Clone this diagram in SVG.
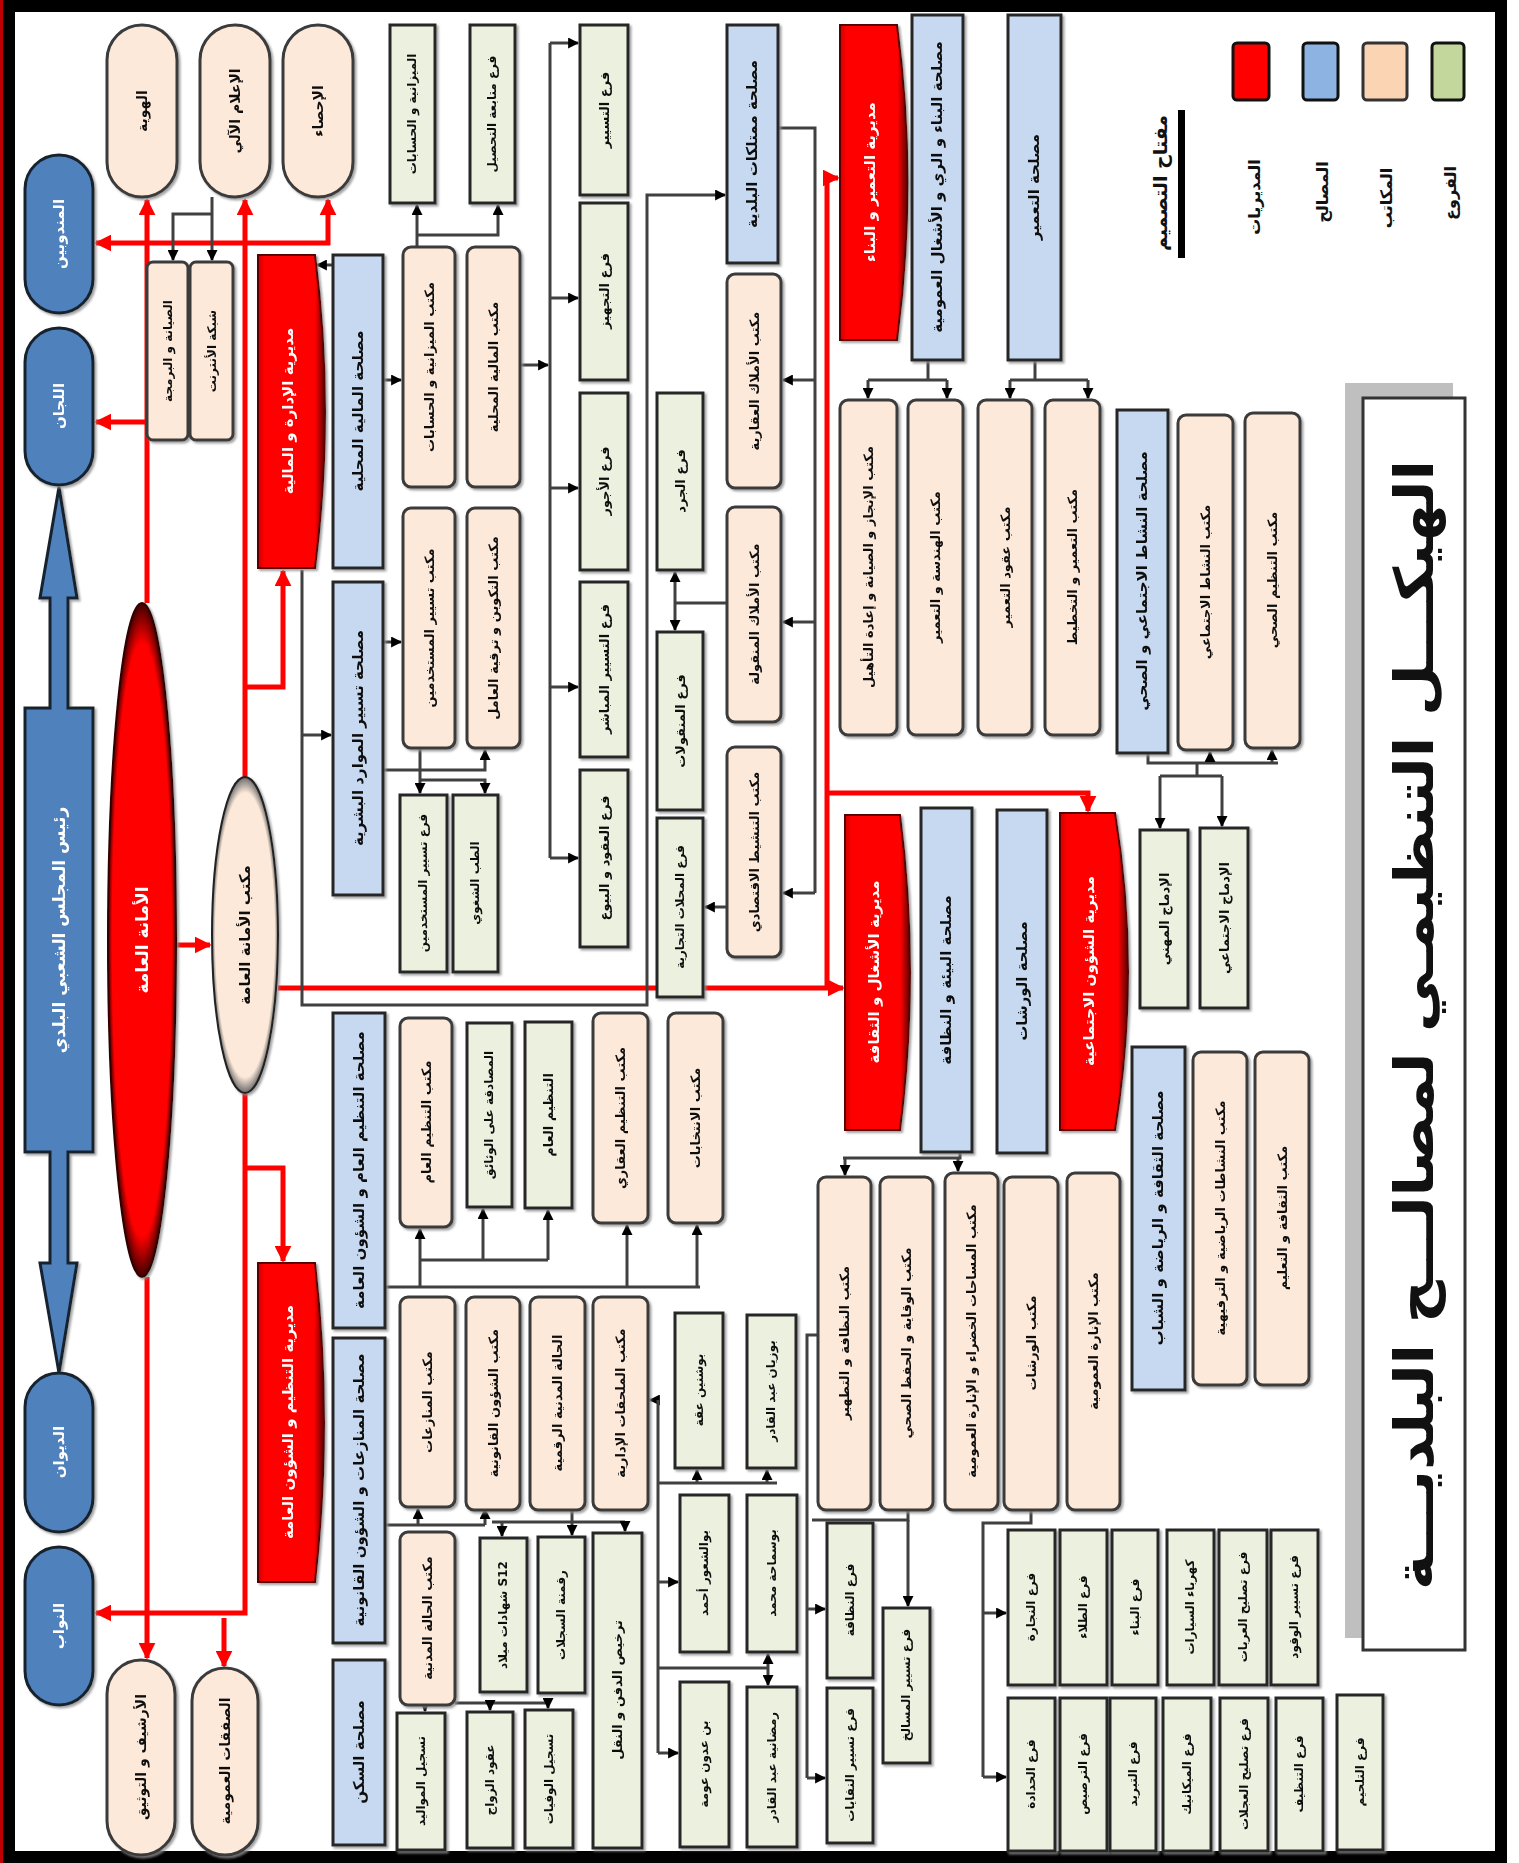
<svg xmlns="http://www.w3.org/2000/svg" width="1519" height="1863" viewBox="0 0 1519 1863">
<style>
.pe{fill:#fde9d9;stroke:#3a3a3a;stroke-width:3}
.gr{fill:#ebf1de;stroke:#262626;stroke-width:3}
.bl{fill:#c6d9f1;stroke:#262626;stroke-width:3}
.rd{fill:url(#rg);stroke:#5a0000;stroke-width:2}
.pl{fill:#4f81bd;stroke:#17222e;stroke-width:3}
.t{font-family:"DejaVu Sans","Noto Sans",sans-serif;font-weight:bold;text-anchor:middle;dominant-baseline:central;fill:#111}
.w{fill:#fff}
.f12{font-size:12px}.f13{font-size:13px}.f14{font-size:14px}.f15{font-size:15px}.f16{font-size:16px}.f17{font-size:17px}
.ln{fill:none;stroke:#404040;stroke-width:3}
.rl{fill:none;stroke:#ff0000;stroke-width:5}
.nd{filter:url(#sh)}
</style>
<defs>
<filter id="sh" x="-20%" y="-5%" width="140%" height="110%"><feDropShadow dx="2" dy="2" stdDeviation="1" flood-color="#8c8c8c" flood-opacity="0.8"/></filter>
<linearGradient id="rg" x1="0" y1="0" x2="1" y2="0"><stop offset="0" stop-color="#d00000"/><stop offset="0.1" stop-color="#ff0000"/><stop offset="0.85" stop-color="#ff0000"/><stop offset="1" stop-color="#5a0000"/></linearGradient>
<radialGradient id="eg"><stop offset="0.88" stop-color="#ff0000"/><stop offset="1" stop-color="#400000"/></radialGradient>
<radialGradient id="pg"><stop offset="0.9" stop-color="#fde9d9"/><stop offset="1" stop-color="#6a6a6a"/></radialGradient>
<marker id="a" viewBox="0 0 10 10" refX="9" refY="5" markerWidth="11" markerHeight="11" markerUnits="userSpaceOnUse" orient="auto"><path d="M0,0 L10,5 L0,10 Z" fill="#000"/></marker>
<marker id="r" viewBox="0 0 10 10" refX="9" refY="5" markerWidth="17" markerHeight="17" markerUnits="userSpaceOnUse" orient="auto"><path d="M0,0 L10,5 L0,10 Z" fill="#ff0000"/></marker>
</defs>

<!-- page frame -->
<rect x="0" y="0" width="1519" height="1863" fill="#fff"/>
<line x1="1.5" y1="0" x2="1.5" y2="1863" stroke="#c00000" stroke-width="3"/>
<rect x="9" y="6" width="1492" height="1851" fill="none" stroke="#000" stroke-width="12"/>

<!-- connectors -->
<g id="connectors">
<g class="rl">
<path d="M147,603 V200" marker-end="url(#r)"/>
<path d="M328,245 V200" marker-end="url(#r)"/>
<path d="M330,243 H96" marker-end="url(#r)"/>
<path d="M245,778 V200" marker-end="url(#r)"/>
<path d="M245,687 H283 V571" marker-end="url(#r)"/>
<path d="M147,422 H96" marker-end="url(#r)"/>
<path d="M176,945 H210" marker-end="url(#r)"/>
<path d="M278,988 H843" marker-end="url(#r)"/>
<path d="M827,988 V178 H838" marker-end="url(#r)"/>
<path d="M827,793 H1088 V811" marker-end="url(#r)"/>
<path d="M245,1093 V1613 H96" marker-end="url(#r)"/>
<path d="M245,1168 H283 V1261" marker-end="url(#r)"/>
<path d="M147,1277 V1658" marker-end="url(#r)"/>
<path d="M224,1618 V1666" marker-end="url(#r)"/>
</g>
<g class="ln">
<path d="M212,197 V260" marker-end="url(#a)"/>
<path d="M212,214 H173 V260" marker-end="url(#a)"/>
<path d="M333,265 H317" marker-end="url(#a)"/>
<path d="M302,570 V1005 H647 V195 H725" marker-end="url(#a)"/>
<path d="M302,735 H331" marker-end="url(#a)"/>
<path d="M383,380 H401" marker-end="url(#a)"/>
<path d="M417,247 V205" marker-end="url(#a)"/>
<path d="M417,235 H498 V205" marker-end="url(#a)"/>
<path d="M520,365 H548" marker-end="url(#a)"/>
<path d="M550,43 V858"/>
<path d="M550,43 H578" marker-end="url(#a)"/>
<path d="M550,298 H578" marker-end="url(#a)"/>
<path d="M550,488 H578" marker-end="url(#a)"/>
<path d="M550,687 H578" marker-end="url(#a)"/>
<path d="M550,858 H578" marker-end="url(#a)"/>
<path d="M778,128 H815 V893"/>
<path d="M815,380 H783" marker-end="url(#a)"/>
<path d="M815,622 H783" marker-end="url(#a)"/>
<path d="M815,893 H783" marker-end="url(#a)"/>
<path d="M727,603 H675"/>
<path d="M675,603 V572" marker-end="url(#a)"/>
<path d="M675,603 V630" marker-end="url(#a)"/>
<path d="M727,907 H705" marker-end="url(#a)"/>
<path d="M383,642 H401" marker-end="url(#a)"/>
<path d="M383,770 H485 V750" marker-end="url(#a)"/>
<path d="M420,748 V793" marker-end="url(#a)"/>
<path d="M420,780 H485 V793" marker-end="url(#a)"/>
<path d="M928,360 V380"/>
<path d="M868,380 H947"/>
<path d="M868,380 V398" marker-end="url(#a)"/>
<path d="M947,380 V398" marker-end="url(#a)"/>
<path d="M1035,360 V380"/>
<path d="M1010,380 H1088"/>
<path d="M1010,380 V398" marker-end="url(#a)"/>
<path d="M1088,380 V398" marker-end="url(#a)"/>
<path d="M1148,753 V763 H1278"/>
<path d="M1210,763 V752" marker-end="url(#a)"/>
<path d="M1272,763 V750" marker-end="url(#a)"/>
<path d="M1197,763 V776"/>
<path d="M1160,776 H1222"/>
<path d="M1160,776 V828" marker-end="url(#a)"/>
<path d="M1222,776 V826" marker-end="url(#a)"/>
<path d="M385,1287 H700"/>
<path d="M420,1287 V1229" marker-end="url(#a)"/>
<path d="M627,1287 V1225" marker-end="url(#a)"/>
<path d="M697,1287 V1225" marker-end="url(#a)"/>
<path d="M420,1260 H548"/>
<path d="M483,1260 V1209" marker-end="url(#a)"/>
<path d="M548,1260 V1210" marker-end="url(#a)"/>
<path d="M385,1525 H485"/>
<path d="M418,1525 V1509" marker-end="url(#a)"/>
<path d="M485,1525 V1509" marker-end="url(#a)"/>
<path d="M572,1510 V1522"/>
<path d="M492,1522 H625"/>
<path d="M502,1522 V1536" marker-end="url(#a)"/>
<path d="M572,1522 V1535" marker-end="url(#a)"/>
<path d="M625,1522 V1531" marker-end="url(#a)"/>
<path d="M425,1705 V1711" marker-end="url(#a)"/>
<path d="M455,1703 H548"/>
<path d="M490,1703 V1710" marker-end="url(#a)"/>
<path d="M548,1703 V1708" marker-end="url(#a)"/>
<path d="M658,1400 H650" marker-end="url(#a)"/>
<path d="M658,1400 V1753"/>
<path d="M658,1582 H678" marker-end="url(#a)"/>
<path d="M658,1753 H678" marker-end="url(#a)"/>
<path d="M658,1483 H777"/>
<path d="M697,1483 V1470" marker-end="url(#a)"/>
<path d="M767,1483 V1470" marker-end="url(#a)"/>
<path d="M658,1668 H768"/>
<path d="M768,1668 V1654" marker-end="url(#a)"/>
<path d="M768,1668 V1685" marker-end="url(#a)"/>
<path d="M818,1335 H807 V1778"/>
<path d="M807,1609 H825" marker-end="url(#a)"/>
<path d="M807,1778 H825" marker-end="url(#a)"/>
<path d="M908,1510 V1520 H812"/>
<path d="M908,1520 V1606" marker-end="url(#a)"/>
<path d="M960,1152 V1158 H843"/>
<path d="M845,1158 V1175" marker-end="url(#a)"/>
<path d="M958,1158 V1171" marker-end="url(#a)"/>
<path d="M1031,1510 V1523 H983 V1777"/>
<path d="M983,1613 H1006" marker-end="url(#a)"/>
<path d="M983,1777 H1006" marker-end="url(#a)"/>
</g>
</g>

<!-- mayor and side units -->
<g id="mayor" class="nd">
<path class="pl" d="M59,487 L77,598 L68,598 L68,708 L93,708 L93,1152 L68,1152 L68,1263 L77,1263 L59,1373 L40,1263 L50,1263 L50,1152 L25,1152 L25,708 L50,708 L50,598 L40,598 Z"/>
<text class="t w f17" transform="translate(59,930) rotate(-90)">رئيس المجلس الشعبي البلدي</text>
</g>
<g id="p-delegates" class="nd"><rect class="pl" x="25" y="155" width="68" height="158" rx="34"/><text class="t w f15" transform="translate(59,234) rotate(-90)">المندوبين</text></g>
<g id="p-committees" class="nd"><rect class="pl" x="25" y="328" width="68" height="157" rx="34"/><text class="t w f15" transform="translate(59,406) rotate(-90)">اللجان</text></g>
<g id="p-cabinet" class="nd"><rect class="pl" x="25" y="1373" width="68" height="159" rx="34"/><text class="t w f15" transform="translate(59,1452) rotate(-90)">الديوان</text></g>
<g id="p-deputies" class="nd"><rect class="pl" x="25" y="1547" width="68" height="158" rx="34"/><text class="t w f15" transform="translate(59,1626) rotate(-90)">النواب</text></g>

<g id="sec-general" class="nd"><ellipse cx="142" cy="940" rx="34" ry="337" fill="url(#eg)" stroke="#300000" stroke-width="2"/><text class="t w f17" transform="translate(142,940) rotate(-90)">الأمانة العامة</text></g>
<g id="sec-office" class="nd"><ellipse cx="245" cy="935" rx="33" ry="158" fill="url(#pg)" stroke="#222" stroke-width="2"/><text class="t f15" transform="translate(245,935) rotate(-90)">مكتب الأمانة العامة</text></g>

<g id="u-identity" class="nd"><rect class="pe" x="107" y="25" width="70" height="172" rx="35"/><text class="t f14" transform="translate(142,111) rotate(-90)">الهوية</text></g>
<g id="u-it" class="nd"><rect class="pe" x="200" y="25" width="70" height="172" rx="35"/><text class="t f14" transform="translate(235,111) rotate(-90)">الإعلام الآلي</text></g>
<g id="u-stats" class="nd"><rect class="pe" x="283" y="25" width="70" height="172" rx="35"/><text class="t f14" transform="translate(318,111) rotate(-90)">الإحصاء</text></g>
<g id="u-archive" class="nd"><rect class="pe" x="107" y="1660" width="68" height="195" rx="34"/><text class="t f14" transform="translate(141,1757) rotate(-90)">الأرشيف و التوثيق</text></g>
<g id="u-markets" class="nd"><rect class="pe" x="192" y="1668" width="66" height="187" rx="33"/><text class="t f14" transform="translate(225,1761) rotate(-90)">الصفقات العمومية</text></g>
<g id="s-maint" class="nd"><rect class="pe" x="147" y="262" width="41" height="178" rx="6"/><text class="t f12" transform="translate(167.5,351) rotate(-90)">الصيانة و البرمجة</text></g>
<g id="s-net" class="nd"><rect class="pe" x="190" y="262" width="43" height="178" rx="6"/><text class="t f12" transform="translate(211.5,351) rotate(-90)">شبكة الأنترنت</text></g>

<!-- directorates -->
<g id="d-admin" class="nd"><path class="rd" d="M258,255 H315 Q335,411 315,568 H258 Z"/><text class="t w f15" transform="translate(288,411) rotate(-90)">مديرية الإدارة و المالية</text></g>
<g id="d-reg" class="nd"><path class="rd" d="M258,1263 H315 Q333,1422 315,1582 H258 Z"/><text class="t w f15" transform="translate(288,1422) rotate(-90)">مديرية التنظيم و الشؤون العامة</text></g>
<g id="d-urb" class="nd"><path class="rd" d="M840,25 H897 Q918,182 897,340 H840 Z"/><text class="t w f15" transform="translate(870,182) rotate(-90)">مديرية التعمير و البناء</text></g>
<g id="d-works" class="nd"><path class="rd" d="M845,815 H900 Q920,972 900,1130 H845 Z"/><text class="t w f15" transform="translate(874,972) rotate(-90)">مديرية الأشغال و الثقافة</text></g>
<g id="d-social" class="nd"><path class="rd" d="M1060,813 H1115 Q1141,971 1115,1130 H1060 Z"/><text class="t w f15" transform="translate(1089,971) rotate(-90)">مديرية الشؤون الاجتماعية</text></g>

<!-- services -->
<g id="b1" class="nd"><rect class="bl" x="333" y="255" width="50" height="313"/><text class="t f15" transform="translate(358,411) rotate(-90)">مصلحة المالية المحلية</text></g>
<g id="b2" class="nd"><rect class="bl" x="333" y="582" width="50" height="313"/><text class="t f15" transform="translate(358,738) rotate(-90)">مصلحة تسيير الموارد البشرية</text></g>
<g id="b3" class="nd"><rect class="bl" x="333" y="1013" width="52" height="315"/><text class="t f15" transform="translate(359,1170) rotate(-90)">مصلحة التنظيم العام و الشؤون العامة</text></g>
<g id="b4" class="nd"><rect class="bl" x="333" y="1338" width="52" height="305"/><text class="t f15" transform="translate(359,1490) rotate(-90)">مصلحة المنازعات و الشؤون القانونية</text></g>
<g id="b5" class="nd"><rect class="bl" x="333" y="1660" width="52" height="185"/><text class="t f15" transform="translate(359,1752) rotate(-90)">مصلحة السكن</text></g>
<g id="b6" class="nd"><rect class="bl" x="727" y="25" width="51" height="238"/><text class="t f15" transform="translate(752,144) rotate(-90)">مصلحة ممتلكات البلدية</text></g>
<g id="b7" class="nd"><rect class="bl" x="912" y="15" width="51" height="345"/><text class="t f15" transform="translate(937,187) rotate(-90)">مصلحة البناء و الري و الأشغال العمومية</text></g>
<g id="b8" class="nd"><rect class="bl" x="1008" y="15" width="53" height="345"/><text class="t f15" transform="translate(1034,187) rotate(-90)">مصلحة التعمير</text></g>
<g id="b9" class="nd"><rect class="bl" x="1117" y="410" width="51" height="343"/><text class="t f15" transform="translate(1142,581) rotate(-90)">مصلحة النشاط الاجتماعي و الصحي</text></g>
<g id="b10" class="nd"><rect class="bl" x="921" y="808" width="51" height="344"/><text class="t f15" transform="translate(946,980) rotate(-90)">مصلحة البيئة و النظافة</text></g>
<g id="b11" class="nd"><rect class="bl" x="997" y="810" width="50" height="343"/><text class="t f15" transform="translate(1022,981) rotate(-90)">مصلحة الورشات</text></g>
<g id="b12" class="nd"><rect class="bl" x="1132" y="1047" width="53" height="343"/><text class="t f15" transform="translate(1158,1218) rotate(-90)">مصلحة الثقافة و الرياضة و الشباب</text></g>

<!-- offices -->
<g id="o1" class="nd"><rect class="pe" x="403" y="247" width="52" height="240" rx="8"/><text class="t f13" transform="translate(429,367) rotate(-90)">مكتب الميزانية و الحسابات</text></g>
<g id="o2" class="nd"><rect class="pe" x="467" y="247" width="53" height="240" rx="8"/><text class="t f13" transform="translate(493,367) rotate(-90)">مكتب المالية المحلية</text></g>
<g id="o3" class="nd"><rect class="pe" x="403" y="508" width="52" height="240" rx="8"/><text class="t f13" transform="translate(429,628) rotate(-90)">مكتب تسيير المستخدمين</text></g>
<g id="o4" class="nd"><rect class="pe" x="467" y="508" width="53" height="240" rx="8"/><text class="t f13" transform="translate(493,628) rotate(-90)">مكتب التكوين و ترقية العامل</text></g>
<g id="o5" class="nd"><rect class="pe" x="727" y="274" width="54" height="214" rx="8"/><text class="t f13" transform="translate(754,381) rotate(-90)">مكتب الأملاك العقارية</text></g>
<g id="o6" class="nd"><rect class="pe" x="727" y="507" width="54" height="215" rx="8"/><text class="t f13" transform="translate(754,614) rotate(-90)">مكتب الأملاك المنقولة</text></g>
<g id="o7" class="nd"><rect class="pe" x="727" y="747" width="54" height="210" rx="8"/><text class="t f13" transform="translate(754,852) rotate(-90)">مكتب التنشيط الاقتصادي</text></g>
<g id="o8" class="nd"><rect class="pe" x="840" y="400" width="57" height="335" rx="8"/><text class="t f13" transform="translate(868,567) rotate(-90)">مكتب الإنجاز و الصيانة و إعادة التأهيل</text></g>
<g id="o9" class="nd"><rect class="pe" x="908" y="400" width="55" height="335" rx="8"/><text class="t f13" transform="translate(935,567) rotate(-90)">مكتب الهندسة و التعمير</text></g>
<g id="o10" class="nd"><rect class="pe" x="978" y="400" width="54" height="335" rx="8"/><text class="t f13" transform="translate(1005,567) rotate(-90)">مكتب عقود التعمير</text></g>
<g id="o11" class="nd"><rect class="pe" x="1045" y="400" width="55" height="335" rx="8"/><text class="t f13" transform="translate(1072,567) rotate(-90)">مكتب التعمير و التخطيط</text></g>
<g id="o12" class="nd"><rect class="pe" x="1178" y="415" width="55" height="335" rx="8"/><text class="t f13" transform="translate(1205,582) rotate(-90)">مكتب النشاط الاجتماعي</text></g>
<g id="o13" class="nd"><rect class="pe" x="1245" y="413" width="55" height="335" rx="8"/><text class="t f13" transform="translate(1272,580) rotate(-90)">مكتب التنظيم الصحي</text></g>
<g id="o14" class="nd"><rect class="pe" x="400" y="1018" width="52" height="209" rx="8"/><text class="t f13" transform="translate(426,1122) rotate(-90)">مكتب التنظيم العام</text></g>
<g id="o15" class="nd"><rect class="pe" x="593" y="1013" width="55" height="210" rx="8"/><text class="t f13" transform="translate(620,1118) rotate(-90)">مكتب التنظيم العقاري</text></g>
<g id="o16" class="nd"><rect class="pe" x="668" y="1013" width="55" height="210" rx="8"/><text class="t f13" transform="translate(695,1118) rotate(-90)">مكتب الانتخابات</text></g>
<g id="o17" class="nd"><rect class="pe" x="400" y="1297" width="55" height="210" rx="8"/><text class="t f13" transform="translate(427,1402) rotate(-90)">مكتب المنازعات</text></g>
<g id="o18" class="nd"><rect class="pe" x="466" y="1297" width="54" height="213" rx="8"/><text class="t f13" transform="translate(493,1403) rotate(-90)">مكتب الشؤون القانونية</text></g>
<g id="o19" class="nd"><rect class="pe" x="530" y="1297" width="55" height="213" rx="8"/><text class="t f13" transform="translate(557,1403) rotate(-90)">الحالة المدنية الرقمية</text></g>
<g id="o20" class="nd"><rect class="pe" x="593" y="1297" width="55" height="213" rx="8"/><text class="t f13" transform="translate(620,1403) rotate(-90)">مكتب الملحقات الإدارية</text></g>
<g id="o21" class="nd"><rect class="pe" x="400" y="1532" width="55" height="173" rx="8"/><text class="t f13" transform="translate(427,1618) rotate(-90)">مكتب الحالة المدنية</text></g>
<g id="o22" class="nd"><rect class="pe" x="818" y="1177" width="53" height="333" rx="8"/><text class="t f13" transform="translate(844,1343) rotate(-90)">مكتب النظافة و التطهير</text></g>
<g id="o23" class="nd"><rect class="pe" x="880" y="1177" width="53" height="333" rx="8"/><text class="t f13" transform="translate(906,1343) rotate(-90)">مكتب الوقاية و الحفظ الصحي</text></g>
<g id="o24" class="nd"><rect class="pe" x="945" y="1173" width="53" height="337" rx="8"/><text class="t f13" transform="translate(971,1341) rotate(-90)">مكتب المساحات الخضراء و الإنارة العمومية</text></g>
<g id="o25" class="nd"><rect class="pe" x="1004" y="1177" width="54" height="333" rx="8"/><text class="t f13" transform="translate(1031,1343) rotate(-90)">مكتب الورشات</text></g>
<g id="o26" class="nd"><rect class="pe" x="1067" y="1173" width="53" height="337" rx="8"/><text class="t f13" transform="translate(1093,1341) rotate(-90)">مكتب الإنارة العمومية</text></g>
<g id="o27" class="nd"><rect class="pe" x="1193" y="1052" width="54" height="333" rx="8"/><text class="t f13" transform="translate(1220,1218) rotate(-90)">مكتب النشاطات الرياضية و الترفيهية</text></g>
<g id="o28" class="nd"><rect class="pe" x="1255" y="1052" width="54" height="333" rx="8"/><text class="t f13" transform="translate(1282,1218) rotate(-90)">مكتب الثقافة و التعليم</text></g>

<!-- branches -->
<g id="g1" class="nd"><rect class="gr" x="390" y="25" width="45" height="178"/><text class="t f12" transform="translate(412,114) rotate(-90)">الميزانية و الحسابات</text></g>
<g id="g2" class="nd"><rect class="gr" x="470" y="25" width="45" height="178"/><text class="t f12" transform="translate(492,114) rotate(-90)">فرع متابعة التحصيل</text></g>
<g id="g3" class="nd"><rect class="gr" x="580" y="25" width="48" height="170"/><text class="t f13" transform="translate(604,110) rotate(-90)">فرع التسيير</text></g>
<g id="g4" class="nd"><rect class="gr" x="580" y="203" width="48" height="177"/><text class="t f13" transform="translate(604,291) rotate(-90)">فرع التجهيز</text></g>
<g id="g5" class="nd"><rect class="gr" x="580" y="393" width="48" height="177"/><text class="t f13" transform="translate(604,481) rotate(-90)">فرع الأجور</text></g>
<g id="g6" class="nd"><rect class="gr" x="580" y="582" width="48" height="175"/><text class="t f13" transform="translate(604,669) rotate(-90)">فرع التسيير المباشر</text></g>
<g id="g7" class="nd"><rect class="gr" x="580" y="770" width="48" height="177"/><text class="t f13" transform="translate(604,858) rotate(-90)">فرع العقود و البيوع</text></g>
<g id="g8" class="nd"><rect class="gr" x="657" y="393" width="46" height="177"/><text class="t f13" transform="translate(680,481) rotate(-90)">فرع الجرد</text></g>
<g id="g9" class="nd"><rect class="gr" x="657" y="632" width="46" height="178"/><text class="t f13" transform="translate(680,721) rotate(-90)">فرع المنقولات</text></g>
<g id="g10" class="nd"><rect class="gr" x="657" y="818" width="46" height="179"/><text class="t f12" transform="translate(680,907) rotate(-90)">فرع المحلات التجارية</text></g>
<g id="g11" class="nd"><rect class="gr" x="400" y="795" width="47" height="177"/><text class="t f12" transform="translate(423,883) rotate(-90)">فرع تسيير المستخدمين</text></g>
<g id="g12" class="nd"><rect class="gr" x="453" y="795" width="45" height="177"/><text class="t f12" transform="translate(475,883) rotate(-90)">الطب الشغوي</text></g>
<g id="g13" class="nd"><rect class="gr" x="1140" y="830" width="48" height="178"/><text class="t f13" transform="translate(1164,919) rotate(-90)">الإدماج المهني</text></g>
<g id="g14" class="nd"><rect class="gr" x="1200" y="828" width="48" height="180"/><text class="t f13" transform="translate(1224,918) rotate(-90)">الإدماج الاجتماعي</text></g>
<g id="g15" class="nd"><rect class="gr" x="467" y="1023" width="45" height="184"/><text class="t f12" transform="translate(489,1115) rotate(-90)">المصادقة على الوثائق</text></g>
<g id="g16" class="nd"><rect class="gr" x="525" y="1022" width="47" height="186"/><text class="t f13" transform="translate(548,1115) rotate(-90)">التنظيم العام</text></g>
<g id="g17" class="nd"><rect class="gr" x="480" y="1538" width="47" height="154"/><text class="t f12" transform="translate(503,1615) rotate(-90)">شهادات ميلاد S12</text></g>
<g id="g18" class="nd"><rect class="gr" x="538" y="1537" width="47" height="156"/><text class="t f12" transform="translate(561,1615) rotate(-90)">رقمنة السجلات</text></g>
<g id="g19" class="nd"><rect class="gr" x="593" y="1533" width="49" height="315"/><text class="t f13" transform="translate(617,1690) rotate(-90)">ترخيص الدفن و النقل</text></g>
<g id="g20" class="nd"><rect class="gr" x="397" y="1713" width="48" height="137"/><text class="t f12" transform="translate(421,1781) rotate(-90)">تسجيل المواليد</text></g>
<g id="g21" class="nd"><rect class="gr" x="467" y="1712" width="46" height="136"/><text class="t f12" transform="translate(490,1780) rotate(-90)">عقود الزواج</text></g>
<g id="g22" class="nd"><rect class="gr" x="525" y="1710" width="48" height="138"/><text class="t f12" transform="translate(549,1779) rotate(-90)">تسجيل الوفيات</text></g>
<g id="g23" class="nd"><rect class="gr" x="675" y="1313" width="48" height="155"/><text class="t f12" transform="translate(699,1390) rotate(-90)">بوشنين عقة</text></g>
<g id="g24" class="nd"><rect class="gr" x="747" y="1315" width="49" height="153"/><text class="t f12" transform="translate(771,1391) rotate(-90)">بوزيان عبد القادر</text></g>
<g id="g25" class="nd"><rect class="gr" x="680" y="1495" width="49" height="157"/><text class="t f12" transform="translate(704,1573) rotate(-90)">بوالشعور أحمد</text></g>
<g id="g26" class="nd"><rect class="gr" x="747" y="1495" width="50" height="157"/><text class="t f12" transform="translate(772,1573) rotate(-90)">بوسماحة محمد</text></g>
<g id="g27" class="nd"><rect class="gr" x="680" y="1682" width="49" height="165"/><text class="t f12" transform="translate(704,1764) rotate(-90)">بن عدون عومة</text></g>
<g id="g28" class="nd"><rect class="gr" x="747" y="1687" width="50" height="160"/><text class="t f12" transform="translate(772,1767) rotate(-90)">رمضانية عبد القادر</text></g>
<g id="g29" class="nd"><rect class="gr" x="827" y="1523" width="46" height="155"/><text class="t f12" transform="translate(850,1600) rotate(-90)">فرع النظافة</text></g>
<g id="g30" class="nd"><rect class="gr" x="827" y="1688" width="46" height="155"/><text class="t f12" transform="translate(850,1765) rotate(-90)">فرع تسيير النفايات</text></g>
<g id="g31" class="nd"><rect class="gr" x="883" y="1608" width="47" height="155"/><text class="t f12" transform="translate(906,1685) rotate(-90)">فرع تسيير المسالخ</text></g>
<g id="g32" class="nd"><rect class="gr" x="1008" y="1530" width="47" height="155"/><text class="t f12" transform="translate(1031,1607) rotate(-90)">فرع النجارة</text></g>
<g id="g33" class="nd"><rect class="gr" x="1060" y="1530" width="47" height="155"/><text class="t f12" transform="translate(1083,1607) rotate(-90)">فرع الطلاء</text></g>
<g id="g34" class="nd"><rect class="gr" x="1112" y="1530" width="46" height="155"/><text class="t f12" transform="translate(1135,1607) rotate(-90)">فرع البناء</text></g>
<g id="g35" class="nd"><rect class="gr" x="1167" y="1530" width="47" height="155"/><text class="t f12" transform="translate(1190,1607) rotate(-90)">كهرباء السيارات</text></g>
<g id="g36" class="nd"><rect class="gr" x="1219" y="1530" width="48" height="155"/><text class="t f12" transform="translate(1243,1607) rotate(-90)">فرع تصليح العربات</text></g>
<g id="g37" class="nd"><rect class="gr" x="1271" y="1530" width="47" height="155"/><text class="t f12" transform="translate(1294,1607) rotate(-90)">فرع تسيير الوقود</text></g>
<g id="g38" class="nd"><rect class="gr" x="1008" y="1698" width="47" height="153"/><text class="t f12" transform="translate(1031,1774) rotate(-90)">فرع الحدادة</text></g>
<g id="g39" class="nd"><rect class="gr" x="1060" y="1698" width="47" height="153"/><text class="t f12" transform="translate(1083,1774) rotate(-90)">فرع الترصيص</text></g>
<g id="g40" class="nd"><rect class="gr" x="1110" y="1698" width="46" height="153"/><text class="t f12" transform="translate(1133,1774) rotate(-90)">فرع التبريد</text></g>
<g id="g41" class="nd"><rect class="gr" x="1163" y="1698" width="48" height="153"/><text class="t f12" transform="translate(1187,1774) rotate(-90)">فرع الميكانيك</text></g>
<g id="g42" class="nd"><rect class="gr" x="1220" y="1698" width="48" height="153"/><text class="t f12" transform="translate(1244,1774) rotate(-90)">فرع تصليح العجلات</text></g>
<g id="g43" class="nd"><rect class="gr" x="1276" y="1698" width="47" height="153"/><text class="t f12" transform="translate(1299,1774) rotate(-90)">فرع التنظيف</text></g>
<g id="g44" class="nd"><rect class="gr" x="1337" y="1695" width="46" height="155"/><text class="t f12" transform="translate(1360,1772) rotate(-90)">فرع التلحيم</text></g>

<!-- legend -->
<g id="legend">
<rect x="1233" y="43" width="36" height="57" rx="4" fill="#ff0000" stroke="#111" stroke-width="3"/>
<rect x="1303" y="43" width="35" height="57" rx="4" fill="#8db3e2" stroke="#111" stroke-width="3"/>
<rect x="1363" y="43" width="44" height="57" rx="4" fill="#fbd4b4" stroke="#333" stroke-width="3"/>
<rect x="1432" y="43" width="32" height="57" rx="4" fill="#c3d69b" stroke="#111" stroke-width="3"/>
<text class="t f19" style="font-size:19px" transform="translate(1160,183) rotate(-90)">مفتاح التصميم</text>
<rect x="1178" y="110" width="7" height="148" fill="#000"/>
<text class="t f16" transform="translate(1254,197) rotate(-90)">المديريات</text>
<text class="t f16" transform="translate(1322,192) rotate(-90)">المصالح</text>
<text class="t f16" transform="translate(1386,198) rotate(-90)">المكاتب</text>
<text class="t f16" transform="translate(1450,193) rotate(-90)">الفروع</text>
</g>

<!-- title -->
<g id="title">
<rect x="1345" y="383" width="108" height="1255" fill="#bfbfbf"/>
<rect x="1363" y="398" width="102" height="1252" fill="#fff" stroke="#333" stroke-width="3"/>
<text class="t" style="font-size:54px" textLength="1130" lengthAdjust="spacingAndGlyphs" transform="translate(1414,1025) rotate(-90)">الهيكـــل التنظيمـي لمصالـــح البلديـــة</text>
</g>
</svg>
